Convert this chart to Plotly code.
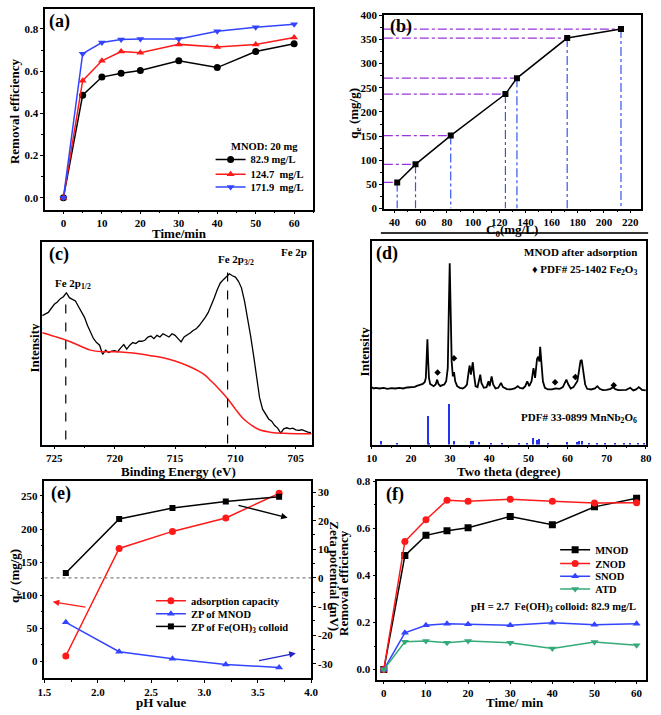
import plotly.graph_objects as go

W, H = 661, 715
FONT = "Liberation Serif"

# ---------------- data ----------------
# (a) removal efficiency vs time, MNOD 20 mg
t_a = [0, 5, 10, 15, 20, 30, 40, 50, 60]
re_829 = [0.0, 0.486, 0.572, 0.590, 0.603, 0.649, 0.617, 0.693, 0.730]
re_1247 = [0.0, 0.555, 0.649, 0.693, 0.687, 0.727, 0.715, 0.727, 0.760]
re_1719 = [0.0, 0.683, 0.736, 0.750, 0.752, 0.752, 0.789, 0.808, 0.823]

# (b) qe vs C0
c0_b = [42, 56, 82.9, 124.7, 133.5, 171.9, 213]
qe_b = [54, 91.5, 151, 237, 270, 353, 371.5]

# (c) XPS Fe 2p
be_c = [726, 725.5, 725, 724.75, 724.5, 724.25, 724.0, 723.75, 723.5, 723.25, 723, 722.75, 722.5,
        722.25, 722, 721.75, 721.5, 721.25, 721, 720.75, 720.5, 720.25, 720, 719.75, 719.5, 719.25,
        719, 718.75, 718.5, 718.25, 718, 717.75, 717.5, 717.25, 717, 716.75, 716.5, 716.25, 716,
        715.75, 715.5, 715.25, 715, 714.75, 714.5, 714.25, 714, 713.75, 713.5, 713.25, 713, 712.75,
        712.5, 712.25, 712, 711.75, 711.5, 711.25, 711, 710.75, 710.5, 710.25, 710, 709.75, 709.5,
        709.25, 709, 708.75, 708.5, 708.25, 708, 707.75, 707.5, 707.25, 707, 706.75, 706.5, 706.25,
        706, 705.75, 705.5, 705.25, 705, 704.75, 704.5, 704.25, 704, 703.75]
int_c = [393, 403, 428, 435, 445, 451, 463, 448, 443, 438, 421, 405, 388,
         363, 343, 323, 311, 303, 275, 288, 281, 285, 286, 283, 295, 305,
         291, 303, 311, 308, 315, 315, 318, 328, 331, 323, 333, 328, 338,
         333, 328, 338, 333, 323, 313, 328, 333, 340, 348, 353, 363, 375,
         388, 403, 423, 448, 473, 493, 503, 511, 521, 515, 511, 498, 478,
         438, 388, 333, 273, 203, 143, 108, 93, 78, 71, 58, 50, 35,
         48, 51, 48, 50, 45, 43, 45, 41, 38, 36]
be_bg = [726, 725, 724, 723, 722, 721, 720, 719, 718, 717, 716, 715, 714, 713, 712.5, 712, 711.5,
         711, 710.5, 710, 709.5, 709, 708.5, 708, 707, 706, 705, 704, 703.7]
int_bg = [341, 330, 318, 303, 288, 283, 283, 281, 277, 271, 265, 255, 241, 223, 211, 193, 175,
          155, 133, 108, 85, 68, 55, 45, 37, 34, 33, 33, 33]
peak_12 = 724.05
peak_32 = 710.65

# (d) XRD
tt_d = [10.0, 10.5, 11, 12, 13, 14, 15, 16, 17, 18, 19, 20, 20.5, 21, 21.5, 22, 22.5, 23, 23.5,
        23.8, 24.0, 24.2, 24.4, 24.6, 24.9, 25.3, 25.8, 26.3, 26.7, 27.0, 27.5, 28.0, 28.5, 29.0,
        29.4, 29.7, 29.9, 30.1, 30.4, 30.7, 31.0, 31.3, 31.8, 32.5, 33.2, 33.8, 34.3, 34.8, 35.0,
        35.3, 35.6, 35.8, 36.1, 36.5, 37.0, 37.4, 37.7, 38.0, 38.6, 39.3, 39.8, 40.1, 40.6, 41.0,
        41.6, 42.3, 43.0, 43.5, 44.5, 45.5, 46.5, 47.3, 47.8, 48.6, 49.2, 49.7, 50.2, 50.8, 51.3,
        51.7, 52.2, 52.5, 52.8, 53.0, 53.3, 53.7, 54.2, 55, 56, 57, 58, 58.8, 59.3, 59.7, 60.2,
        60.8, 61.5, 62.0, 62.5, 62.9, 63.3, 63.6, 64.0, 64.5, 65.0, 66.0, 67.0, 67.6, 68.2, 69.0,
        70.0, 71.0, 71.6, 72.2, 73.0, 74.0, 75.0, 76.0, 76.8, 77.5, 78.2, 79.0, 80.0]
int_d = [175, 171, 173, 171, 173, 170, 172, 171, 173, 171, 174, 175, 177, 176, 179, 180, 183, 185, 190,
         203, 253, 321, 253, 203, 185, 181, 178, 183, 198, 185, 178, 181, 183, 193,
         233, 433, 553, 433, 253, 208, 221, 193, 178, 173, 171, 175, 183, 228, 241,
         213, 238, 251, 213, 178, 175, 193, 213, 188, 173, 175, 193, 178, 208, 183,
         171, 173, 188, 175, 169, 168, 171, 178, 173, 171, 178, 193, 178, 193, 233,
         203, 261, 268, 253, 298, 253, 193, 173, 168, 168, 171, 170, 175, 188, 198, 183,
         171, 175, 185, 193, 223, 255, 258, 223, 183, 170, 168, 171, 178, 170, 166,
         167, 170, 175, 169, 166, 167, 167, 173, 165, 168, 175, 167, 165]
fe2o3_tt = [26.8, 31.0, 56.8, 62.0, 71.8]
fe2o3_int = [220, 263, 190, 206, 181]
ref_tt = [12.2, 16.5, 24.2, 24.6, 29.8, 31.0, 35.3, 35.8, 37.3, 40.3, 43.1, 47.5, 49.5, 51.1, 52.2,
          52.6, 55.0, 59.9, 62.4, 63.0, 63.6, 65.5, 67.5, 69.5, 72.0, 74.5, 76.0, 78.0, 79.5]
ref_int = [11, 3, 88, 5, 125, 11, 11, 11, 7, 5, 6, 6, 5, 21, 15,
           16, 2, 9, 8, 11, 12, 2, 3, 3, 2, 2, 3, 3, 5]

# (e) pH effect
ph_e = [1.7, 2.2, 2.7, 3.2, 3.7]
qe_e = [8.4, 170.8, 196.5, 216.8, 254]
zp_mnod = [-15.5, -25.8, -28.2, -30.2, -31.3]
zp_feoh = [1.7, 20.6, 24.4, 26.7, 28.4]

# (f) removal efficiency of different adsorbents
t_f = [0, 5, 10, 15, 20, 30, 40, 50, 60]
re_mnod = [0.0, 0.484, 0.570, 0.590, 0.602, 0.650, 0.615, 0.691, 0.728]
re_znod = [0.0, 0.544, 0.636, 0.719, 0.715, 0.723, 0.715, 0.707, 0.708]
re_snod = [0.0, 0.156, 0.188, 0.195, 0.193, 0.188, 0.199, 0.191, 0.195]
re_atd = [0.0, 0.118, 0.121, 0.114, 0.121, 0.114, 0.090, 0.117, 0.103]

# tick labels
ticks_time = ["0", "10", "20", "30", "40", "50", "60"]
ticks_eff = ["0.0", "0.2", "0.4", "0.6", "0.8"]
ticks_c0 = ["40", "60", "80", "100", "120", "140", "160", "180", "200", "220"]
ticks_qe = ["0", "50", "100", "150", "200", "250", "300", "350", "400"]
ticks_be = ["725", "720", "715", "710", "705"]
ticks_tt = ["10", "20", "30", "40", "50", "60", "70", "80"]
ticks_ph = ["1.5", "2.0", "2.5", "3.0", "3.5", "4.0"]
ticks_qe_e = ["0", "50", "100", "150", "200", "250"]
ticks_zp = ["-30", "-20", "-10", "0", "10", "20", "30"]

# ---------------- helpers ----------------
def px_x(p):
    return p / W

def px_y(p):
    return 1 - p / H

def dom_x(a, b):
    return [px_x(a), px_x(b)]

def dom_y(top, bottom):
    return [px_y(bottom), px_y(top)]

TICKF = dict(family=FONT, size=11, color="black", weight="bold")

def tk(labels):
    return dict(tickmode="array", tickvals=[float(s) for s in labels],
                ticktext=["<b>%s</b>" % s for s in labels])

def ax(**kw):
    d = dict(showline=True, linecolor="black", linewidth=1.5, mirror=True,
             ticks="outside", ticklen=3, tickwidth=1.2, tickcolor="black",
             showgrid=False, zeroline=False, tickfont=TICKF, layer="above traces")
    d.update(kw)
    return d

def minor(dt):
    return dict(dtick=dt, ticks="outside", ticklen=2, tickwidth=1, tickcolor="black")

RED = "#FF1A1A"
BLUE = "#3344FF"
GREEN = "#33AA77"
PURPLE = "#9933DD"
VBLUE = "#3355EE"

LEGF = dict(family=FONT, size=10.5, color="black", weight="bold")

# legend entry positions (pixels): left of legend box, vertical centre of entry
legend_pos = {
    "legend": (208, 156), "legend2": (208, 171), "legend3": (208, 184),
    "legend4": (147, 605), "legend5": (147, 618), "legend6": (147, 631),
    "legend7": (560, 553), "legend8": (560, 567), "legend9": (560, 580), "legend10": (560, 593),
}

fig = go.Figure()

# (a)
for yv, name, col, sym, lg in [(re_829, "82.9 mg/L", "black", "circle", "legend"),
                               (re_1247, "124.7  mg/L", RED, "triangle-up", "legend2"),
                               (re_1719, "171.9  mg/L", BLUE, "triangle-down", "legend3")]:
    fig.add_trace(go.Scatter(x=t_a, y=yv, name=name, mode="lines+markers", xaxis="x", yaxis="y",
                             line=dict(color=col, width=1.5), marker=dict(symbol=sym, size=7, color=col),
                             legend=lg))

# (b) guide lines
xb_min = 31.8
hx, hy, vx, vy = [], [], [], []
for c, q in zip(c0_b, qe_b):
    hx += [xb_min, c, None]
    hy += [q, q, None]
    vx += [c, c, None]
    vy += [q, 0, None]
fig.add_trace(go.Scatter(x=hx, y=hy, mode="lines", xaxis="x2", yaxis="y2", showlegend=False,
                         line=dict(color=PURPLE, width=1.2, dash="dashdot")))
fig.add_trace(go.Scatter(x=vx, y=vy, mode="lines", xaxis="x2", yaxis="y2", showlegend=False,
                         line=dict(color=VBLUE, width=1.2, dash="dashdot")))
fig.add_trace(go.Scatter(x=c0_b, y=qe_b, mode="lines+markers", xaxis="x2", yaxis="y2", showlegend=False,
                         line=dict(color="black", width=1.5), marker=dict(symbol="square", size=6, color="black")))

# (c)
fig.add_trace(go.Scatter(x=be_c, y=int_c, mode="lines", xaxis="x3", yaxis="y3", showlegend=False,
                         line=dict(color="black", width=1.3)))
fig.add_trace(go.Scatter(x=be_bg, y=int_bg, mode="lines", xaxis="x3", yaxis="y3", showlegend=False,
                         line=dict(color=RED, width=1.5, shape="spline")))

# (d)
fig.add_trace(go.Bar(x=ref_tt, y=ref_int, width=0.3, xaxis="x4", yaxis="y4", showlegend=False,
                     marker=dict(color="#2233EE", line=dict(width=0))))
fig.add_trace(go.Scatter(x=tt_d, y=int_d, mode="lines", xaxis="x4", yaxis="y4", showlegend=False,
                         line=dict(color="black", width=1.8)))
fig.add_trace(go.Scatter(x=fe2o3_tt, y=fe2o3_int, mode="markers", xaxis="x4", yaxis="y4", showlegend=False,
                         marker=dict(symbol="diamond", size=5, color="black")))

# (e)
fig.add_trace(go.Scatter(x=ph_e, y=qe_e, name="adsorption capacity", mode="lines+markers", xaxis="x5", yaxis="y5",
                         line=dict(color=RED, width=1.5), marker=dict(symbol="circle", size=7, color=RED),
                         legend="legend4"))
fig.add_trace(go.Scatter(x=ph_e, y=zp_mnod, name="ZP of MNOD", mode="lines+markers", xaxis="x5", yaxis="y7",
                         line=dict(color=BLUE, width=1.5), marker=dict(symbol="triangle-up", size=7, color=BLUE),
                         legend="legend5"))
fig.add_trace(go.Scatter(x=ph_e, y=zp_feoh, name="ZP of Fe(OH)<sub>3</sub> colloid", mode="lines+markers",
                         xaxis="x5", yaxis="y7",
                         line=dict(color="black", width=1.5), marker=dict(symbol="square", size=6, color="black"),
                         legend="legend6"))

# (f)
for yv, name, col, sym, lg in [(re_mnod, "MNOD", "black", "square", "legend7"),
                               (re_znod, "ZNOD", RED, "circle", "legend8"),
                               (re_snod, "SNOD", BLUE, "triangle-up", "legend9"),
                               (re_atd, "ATD", GREEN, "triangle-down", "legend10")]:
    fig.add_trace(go.Scatter(x=t_f, y=yv, name=name, mode="lines+markers", xaxis="x6", yaxis="y6",
                             line=dict(color=col, width=1.5), marker=dict(symbol=sym, size=7, color=col),
                             legend=lg))

legends = {}
for key, (lx, ly) in legend_pos.items():
    legends[key] = dict(x=px_x(lx), y=px_y(ly), xanchor="left", yanchor="middle",
                        bgcolor="rgba(0,0,0,0)", font=LEGF, itemwidth=30, borderwidth=0)

fig.update_layout(
    width=W, height=H, margin=dict(l=0, r=0, t=0, b=0),
    paper_bgcolor="white", plot_bgcolor="white",
    font=dict(family=FONT, color="black"),
    bargap=0,
    xaxis=ax(domain=dom_x(39, 313), anchor="y", range=[-4.75, 65], minor=minor(5), **tk(ticks_time)),
    yaxis=ax(domain=dom_y(3, 207), anchor="x", range=[-0.056, 0.895], minor=minor(0.1), **tk(ticks_eff)),
    xaxis2=ax(domain=dom_x(385, 648), anchor="y2", range=[xb_min, 228.5], minor=minor(10), **tk(ticks_c0)),
    yaxis2=ax(domain=dom_y(9.5, 206), anchor="x2", range=[0, 400], minor=minor(25), **tk(ticks_qe)),
    xaxis3=ax(domain=dom_x(36, 311.7), anchor="y3", range=[726, 703.65], minor=minor(2.5), **tk(ticks_be)),
    yaxis3=ax(domain=dom_y(240, 446), anchor="x3", range=[0, 618], showticklabels=False, ticks=""),
    xaxis4=ax(domain=dom_x(372.7, 652.7), anchor="y4", range=[10, 80], minor=minor(5), **tk(ticks_tt)),
    yaxis4=ax(domain=dom_y(239, 446), anchor="x4", range=[0, 621], showticklabels=False, ticks=""),
    xaxis5=ax(domain=dom_x(38.3, 310.7), anchor="y5", range=[1.5, 4.0], minor=minor(0.25), **tk(ticks_ph)),
    yaxis5=ax(domain=dom_y(482.7, 683.3), anchor="x5", range=[-24.6, 273.2], minor=minor(25), **tk(ticks_qe_e)),
    yaxis7=ax(overlaying="y5", side="right", anchor="x5", range=[-34.9, 34.0],
              minor=minor(5), mirror=False, **tk(ticks_zp)),
    xaxis6=ax(domain=dom_x(378.3, 652.7), anchor="y6", range=[-1.55, 62.2], minor=minor(5), **tk(ticks_time)),
    yaxis6=ax(domain=dom_y(483.3, 685), anchor="x6", range=[-0.042, 0.8], minor=minor(0.1), **tk(ticks_eff)),
    **legends,
)

shapes = [
    dict(type="line", xref="x3", yref="y3", x0=peak_12, x1=peak_12, y0=15, y1=455,
         line=dict(color="black", dash="dash", width=1.2)),
    dict(type="line", xref="x3", yref="y3", x0=peak_32, x1=peak_32, y0=3, y1=533,
         line=dict(color="black", dash="dash", width=1.2)),
    dict(type="line", xref="x5 domain", yref="y7", x0=0, x1=1, y0=0, y1=0,
         line=dict(color="gray", dash="dot", width=1.2)),
    dict(type="line", xref="paper", yref="paper", x0=px_x(382), x1=px_x(655), y0=px_y(231), y1=px_y(231),
         line=dict(color="#333333", width=2)),
]
fig.update_layout(shapes=shapes)

ann = []

def txt(x, y, s, size=11, xanchor="center", angle=0):
    ann.append(dict(x=px_x(x), y=px_y(y), xref="paper", yref="paper", text=s, showarrow=False,
                    xanchor=xanchor, yanchor="middle", textangle=angle,
                    font=dict(family=FONT, size=size, color="black", weight="bold")))

# panel labels
txt(54, 16, "(a)", 18)
txt(403, 21, "(b)", 18)
txt(53, 253, "(c)", 18)
txt(388, 252, "(d)", 18)
txt(55, 496, "(e)", 18)
txt(396, 497, "(f)", 18)

# axis titles
txt(176, 231.5, "Time/min", 13)
txt(7, 107, "Removal efficiency", 13, angle=-90)
txt(516, 228, "C<sub>0</sub>(mg/L)", 13)
txt(355, 109, "q<sub>e</sub> (mg/g)", 13, angle=-90)
txt(175, 473, "Binding Energy (eV)", 13)
txt(28, 347, "Intensity", 13, angle=-90)
txt(513, 473, "Two theta (degree)", 13)
txt(365, 351, "Intensity", 13, angle=-90)
txt(157, 708, "pH value", 13)
txt(8, 580, "q<sub>e</sub>/ (mg/g)", 13, angle=-90)
txt(335, 580, "Zeta potential (mV)", 13, angle=90)
txt(519, 708.5, "Time/ min", 13)
txt(343, 587, "Removal efficiency", 13, angle=-90)

# panel texts
txt(227, 143, "MNOD: 20 mg", 10.5, xanchor="left")
txt(293, 250, "Fe 2p", 11)
txt(234, 258, "Fe 2p<sub>3/2</sub>", 11)
txt(67, 283, "Fe 2p<sub>1/2</sub>", 11)
txt(646, 250, "MNOD after adsorption", 11, xanchor="right")
txt(646, 268, "♦ PDF# 25-1402 Fe<sub>2</sub>O<sub>3</sub>", 11, xanchor="right")
txt(646, 419, "PDF# 33-0899 MnNb<sub>2</sub>O<sub>6</sub>", 11, xanchor="right")
txt(645, 612, "pH = 2.7  Fe(OH)<sub>3</sub> colloid: 82.9 mg/L", 10.5, xanchor="right")

# arrows in (e)
for (hx_, hy_, tx_, ty_, yr, col) in [(1.577, 90.1, 1.898, 81.7, "y5", RED),
                                      (3.78, 21.0, 3.305, 25.5, "y7", "black"),
                                      (3.856, -26.3, 3.498, -29.0, "y7", "#2222CC")]:
    ann.append(dict(x=hx_, y=hy_, ax=tx_, ay=ty_, xref="x5", yref=yr, axref="x5", ayref=yr,
                    text="", showarrow=True, arrowhead=2, arrowsize=1, arrowwidth=1.3, arrowcolor=col))

fig.update_layout(annotations=ann)

fig.write_html("out.html", config={"displayModeBar": False},
               post_script="document.body.style.margin='0px';document.body.style.overflow='hidden';")
